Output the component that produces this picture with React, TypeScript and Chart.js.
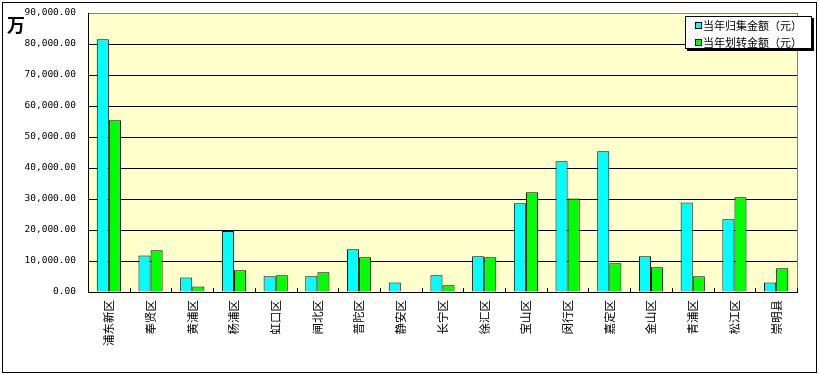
import React, { useEffect, useRef } from "react";
import { Chart, registerables } from "chart.js";

Chart.register(...registerables);

const categories = ["浦东新区", "奉贤区", "黄浦区", "杨浦区", "虹口区", "闸北区", "普陀区", "静安区", "长宁区", "徐汇区", "宝山区", "闵行区", "嘉定区", "金山区", "青浦区", "松江区", "崇明县"];
const collected = [81500, 11800, 4700, 19700, 5050, 5050, 13800, 3100, 5400, 11500, 28600, 42150, 45400, 11500, 28900, 23450, 3100];
const transferred = [55400, 13450, 1800, 7000, 5400, 6350, 11200, 0, 2150, 11200, 32150, 30200, 9250, 7950, 5050, 30550, 7650];
const seriesNames = ["当年归集金额（元）", "当年划转金额（元）"];
const yMin = 0;
const yMax = 90000;
const yStep = 10000;
const unitLabel = "万";

const CJK = '"Noto Sans CJK SC", "Noto Sans", sans-serif';

const decorPlugin = {
  id: "decor",
  beforeDraw(chart: any) {
    const { ctx, chartArea: a } = chart;
    ctx.save();
    ctx.fillStyle = "#FFFFCC";
    ctx.fillRect(a.left, a.top, a.right - a.left, a.bottom - a.top);
    ctx.restore();
  },
  afterDatasetsDraw(chart: any) {
    const { ctx, chartArea: a } = chart;
    const xs = chart.scales.x;
    ctx.save();
    ctx.strokeStyle = "#808080";
    ctx.lineWidth = 1;
    ctx.beginPath();
    ctx.moveTo(Math.round(a.right) + 0.5, a.top);
    ctx.lineTo(Math.round(a.right) + 0.5, a.bottom);
    ctx.stroke();
    ctx.strokeStyle = "#000";
    ctx.beginPath();
    for (let i = 1; i <= categories.length; i++) {
      const x = Math.round(xs.getPixelForValue(i - 0.5)) + 0.5;
      ctx.moveTo(x, a.bottom);
      ctx.lineTo(x, a.bottom - 4);
    }
    ctx.stroke();
    ctx.restore();
  },
  afterDraw(chart: any) {
    const { ctx } = chart;
    ctx.save();
    ctx.strokeStyle = "#000";
    ctx.lineWidth = 1;
    ctx.strokeRect(2.5, 2.5, 814, 370);
    ctx.fillStyle = "#000";
    ctx.font = `bold 18px ${CJK}`;
    ctx.textBaseline = "top";
    ctx.textAlign = "left";
    ctx.fillText(unitLabel, 7, 16);
    const lx = 685, ly = 16, lw = 127, lh = 33;
    ctx.fillStyle = "#000";
    ctx.fillRect(lx + 2, ly + 2, lw, lh);
    ctx.fillStyle = "#fff";
    ctx.fillRect(lx, ly, lw, lh);
    ctx.strokeStyle = "#000";
    ctx.strokeRect(lx + 0.5, ly + 0.5, lw - 1, lh - 1);
    ctx.font = `11px ${CJK}`;
    ctx.textBaseline = "middle";
    chart.data.datasets.forEach((ds: any, i: number) => {
      const cy = ly + 9.5 + i * 17;
      ctx.fillStyle = ds.backgroundColor;
      ctx.fillRect(lx + 10, cy - 3.5, 7, 7);
      ctx.strokeStyle = "#000";
      ctx.strokeRect(lx + 10.5, cy - 3, 6, 6);
      ctx.fillStyle = "#000";
      ctx.fillText(ds.label, lx + 18, cy + 0.5);
    });
    ctx.restore();
  },
};

export default function App() {
  const ref = useRef<HTMLCanvasElement>(null);
  useEffect(() => {
    document.body.style.margin = "0";
    const chart = new Chart(ref.current!, {
      type: "bar",
      data: {
        labels: categories,
        datasets: [
          { label: seriesNames[0], data: collected, backgroundColor: "#00FFFF", borderColor: "#000", borderWidth: 1 },
          { label: seriesNames[1], data: transferred, backgroundColor: "#00FF00", borderColor: "#000", borderWidth: 1 },
        ],
      },
      options: {
        responsive: false,
        animation: false,
        devicePixelRatio: 1,
        layout: { padding: { top: 13, right: 22, left: 0, bottom: 0 } },
        datasets: { bar: { categoryPercentage: 0.58, barPercentage: 1 } },
        plugins: { legend: { display: false }, tooltip: { enabled: false } },
        scales: {
          x: {
            grid: { display: false, drawTicks: false },
            border: { display: true, color: "#000", width: 1 },
            ticks: {
              autoSkip: false,
              maxRotation: 90,
              minRotation: 90,
              padding: 8,
              color: "#000",
              font: { family: CJK, size: 11.5 },
            },
            afterFit: (s: any) => { s.height = 82; },
          },
          y: {
            min: yMin,
            max: yMax,
            ticks: {
              stepSize: yStep,
              padding: 0,
              color: "#000",
              font: { family: '"DejaVu Sans Mono", monospace', size: 9.5 },
              callback: (v: any) => Number(v).toLocaleString("en-US", { minimumFractionDigits: 2, maximumFractionDigits: 2 }),
            },
            grid: {
              drawTicks: true,
              tickLength: 12,
              tickColor: "rgba(0,0,0,0)",
              color: (c: any) => (c.tick && c.tick.value === yMax ? "#808080" : "#000"),
              lineWidth: 1,
            },
            border: { display: true, color: "#000", width: 1 },
            afterFit: (s: any) => { s.width = 88; },
          },
        },
      },
      plugins: [decorPlugin],
    });
    return () => chart.destroy();
  }, []);
  return (
    <div style={{ position: "fixed", left: 0, top: 0, width: 819, height: 374, background: "#fff" }}>
      <canvas ref={ref} width={819} height={374} style={{ width: 819, height: 374 }} />
    </div>
  );
}
